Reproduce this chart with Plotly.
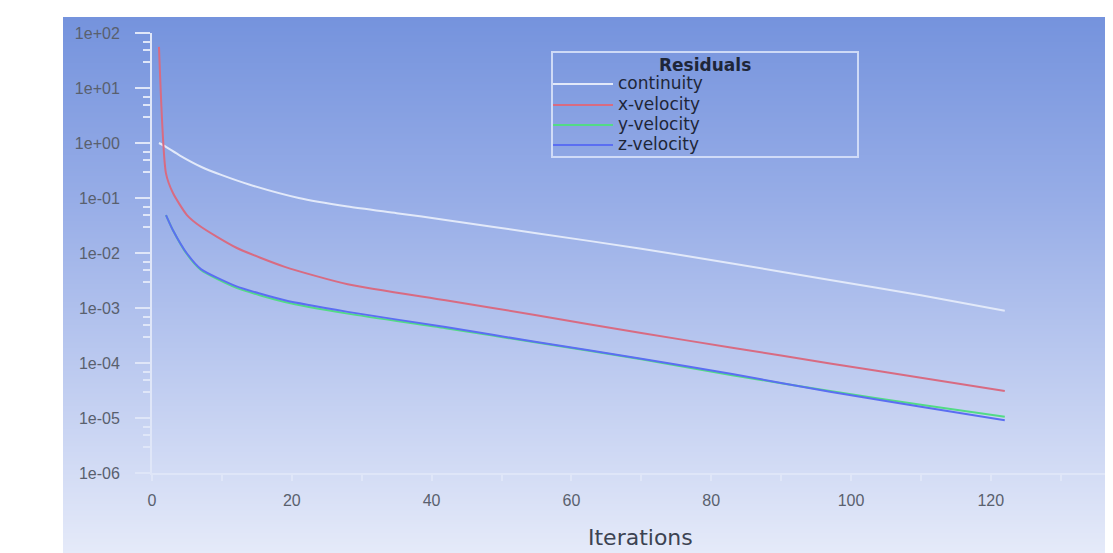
import zlib, struct, base64
import plotly.graph_objects as go

# ---------------- data ----------------
continuity_iter = [1, 2, 4, 7, 10, 14, 21, 28, 35, 42, 55, 70, 83, 97, 110, 122]
continuity_res = [1.0, 0.85, 0.59, 0.37, 0.26, 0.174, 0.100, 0.070, 0.053, 0.040,
                  0.0229, 0.0120, 0.00645, 0.00324, 0.0017, 0.00089]

xvel_iter = [1, 2, 3, 5, 7, 12, 19, 28, 42, 55, 70, 83, 97, 110, 122]
xvel_res = [56.0, 0.28, 0.123, 0.049, 0.030, 0.0126, 0.0056, 0.0027, 0.00138,
            7.4e-4, 3.5e-4, 1.9e-4, 9.8e-5, 5.4e-5, 3.1e-5]

yvel_iter = [2, 3, 5, 7, 12, 19, 28, 42, 55, 70, 83, 97, 110, 122]
yvel_res = [0.049, 0.026, 0.0095, 0.0049, 0.00234, 0.00129, 7.9e-4, 4.3e-4,
            2.35e-4, 1.17e-4, 6.0e-5, 3.1e-5, 1.74e-5, 1.05e-5]

zvel_iter = [2, 3, 5, 7, 12, 19, 28, 42, 55, 70, 83, 97, 110, 122]
zvel_res = [0.049, 0.026, 0.0098, 0.0051, 0.0025, 0.00138, 8.5e-4, 4.5e-4,
            2.4e-4, 1.2e-4, 6.3e-5, 3.0e-5, 1.6e-5, 9.1e-6]

series_names = ["continuity", "x-velocity", "y-velocity", "z-velocity"]
series_colors = ["#e2e9f9", "#d86b82", "#52db86", "#5b6ef2"]

y_tickvals = [1e2, 1e1, 1e0, 1e-1, 1e-2, 1e-3, 1e-4, 1e-5, 1e-6]
y_ticktext = ["1e+02", "1e+01", "1e+00", "1e-01", "1e-02", "1e-03", "1e-04", "1e-05", "1e-06"]
y_minor_mult = [3, 5, 7]
x_tickvals = [0, 20, 40, 60, 80, 100, 120]

# ---------------- geometry helpers ----------------
# the page body has an 8px margin, so the figure is laid out 8px up/left
OFF = 8
W, H = 1113 - OFF, 553 - OFF
ML, MR, MT, MB = 152 - OFF, 0, 33 - OFF, 80
PW, PH = W - ML - MR, H - MT - MB


def px(x):  # x in page pixels -> paper
    return (x - OFF - ML) / PW


def py(y):  # y in page pixels -> paper
    return (H - MB - (y - OFF)) / PH


# ---------------- gradient background as tiny PNG ----------------
def lerp(a, b, t):
    return tuple(int(round(a[i] + (b[i] - a[i]) * t)) for i in range(3))


stops = [(17, (117, 147, 221)), (200, (151, 173, 231)), (553, (229, 234, 249))]
rows = []
for y in range(17, 553):
    for (y0, c0), (y1, c1) in zip(stops[:-1], stops[1:]):
        if y0 <= y <= y1:
            rows.append(lerp(c0, c1, (y - y0) / (y1 - y0)))
            break


def chunk(t, d):
    return struct.pack(">I", len(d)) + t + d + struct.pack(">I", zlib.crc32(t + d) & 0xffffffff)


raw = b"".join(b"\x00" + bytes(c) * 2 for c in rows)
png = (b"\x89PNG\r\n\x1a\n"
       + chunk(b"IHDR", struct.pack(">IIBBBBB", 2, len(rows), 8, 2, 0, 0, 0))
       + chunk(b"IDAT", zlib.compress(raw))
       + chunk(b"IEND", b""))
grad_uri = "data:image/png;base64," + base64.b64encode(png).decode()

# ---------------- figure ----------------
fig = go.Figure()
all_series = [(continuity_iter, continuity_res), (xvel_iter, xvel_res),
              (yvel_iter, yvel_res), (zvel_iter, zvel_res)]
for (xs, ys), name, col in zip(all_series, series_names, series_colors):
    fig.add_trace(go.Scatter(x=xs, y=ys, mode="lines", name=name,
                             line=dict(color=col, width=2, shape="spline", smoothing=0.6),
                             showlegend=False))

axis_col = "#dfe6f8"
label_font = dict(family="Liberation Sans, Arial, sans-serif", size=16, color="#59606e")

fig.update_layout(
    width=W, height=H,
    margin=dict(l=ML, r=MR, t=MT, b=MB, pad=0),
    paper_bgcolor="white",
    plot_bgcolor="rgba(0,0,0,0)",
    showlegend=False,
    images=[dict(source=grad_uri, xref="paper", yref="paper",
                 x=px(63), y=py(17), sizex=px(1113) - px(63), sizey=py(17) - py(553),
                 xanchor="left", yanchor="top", sizing="stretch", layer="below")],
    xaxis=dict(range=[0, PW / 6.99], showgrid=False, zeroline=False,
               showline=True, linecolor=axis_col, linewidth=2,
               tickmode="array", tickvals=x_tickvals,
               ticks="outside", ticklen=6, tickwidth=2, tickcolor=axis_col,
               minor=dict(dtick=10, tick0=0, ticks="outside", ticklen=6, tickwidth=2,
                          tickcolor=axis_col, showgrid=False),
               tickfont=label_font, ticklabelstandoff=6),
    yaxis=dict(type="log", range=[-6, 2], showgrid=False, zeroline=False,
               showline=True, linecolor=axis_col, linewidth=2,
               tickmode="array", tickvals=y_tickvals, ticktext=y_ticktext,
               ticks="outside", ticklen=15, tickwidth=2, tickcolor=axis_col,
               minor=dict(tickmode="array",
                          tickvals=[m * 10 ** k for k in range(-6, 2) for m in y_minor_mult],
                          ticks="outside", ticklen=7, tickwidth=2, tickcolor=axis_col,
                          showgrid=False),
               tickfont=label_font, ticklabelstandoff=12),
)

# x-axis title
fig.add_annotation(text="Iterations", xref="paper", yref="paper",
                   x=px(640), y=py(537), xanchor="center", yanchor="middle",
                   showarrow=False,
                   font=dict(family="DejaVu Sans, sans-serif", size=22, color="#3c4352"))

# ---------------- legend box (drawn manually) ----------------
leg_font = dict(family="DejaVu Sans, sans-serif", size=17, color="#1e2638")
fig.add_shape(type="rect", xref="paper", yref="paper",
              x0=px(552), x1=px(858), y0=py(52), y1=py(157),
              line=dict(color="rgba(215,225,248,0.9)", width=2), fillcolor="rgba(0,0,0,0)")
fig.add_annotation(text="<b>Residuals</b>", xref="paper", yref="paper",
                   x=px(705), y=py(65), xanchor="center", yanchor="middle",
                   showarrow=False, font=leg_font)
leg_rows = [84, 105, 125, 145]
for name, col, yy in zip(series_names, series_colors, leg_rows):
    fig.add_shape(type="line", xref="paper", yref="paper",
                  x0=px(553), x1=px(613), y0=py(yy), y1=py(yy),
                  line=dict(color=col, width=2))
    fig.add_annotation(text=name, xref="paper", yref="paper",
                       x=px(616), y=py(yy - 1), xanchor="left", yanchor="middle",
                       showarrow=False, font=leg_font)

fig.write_html("out.html")
